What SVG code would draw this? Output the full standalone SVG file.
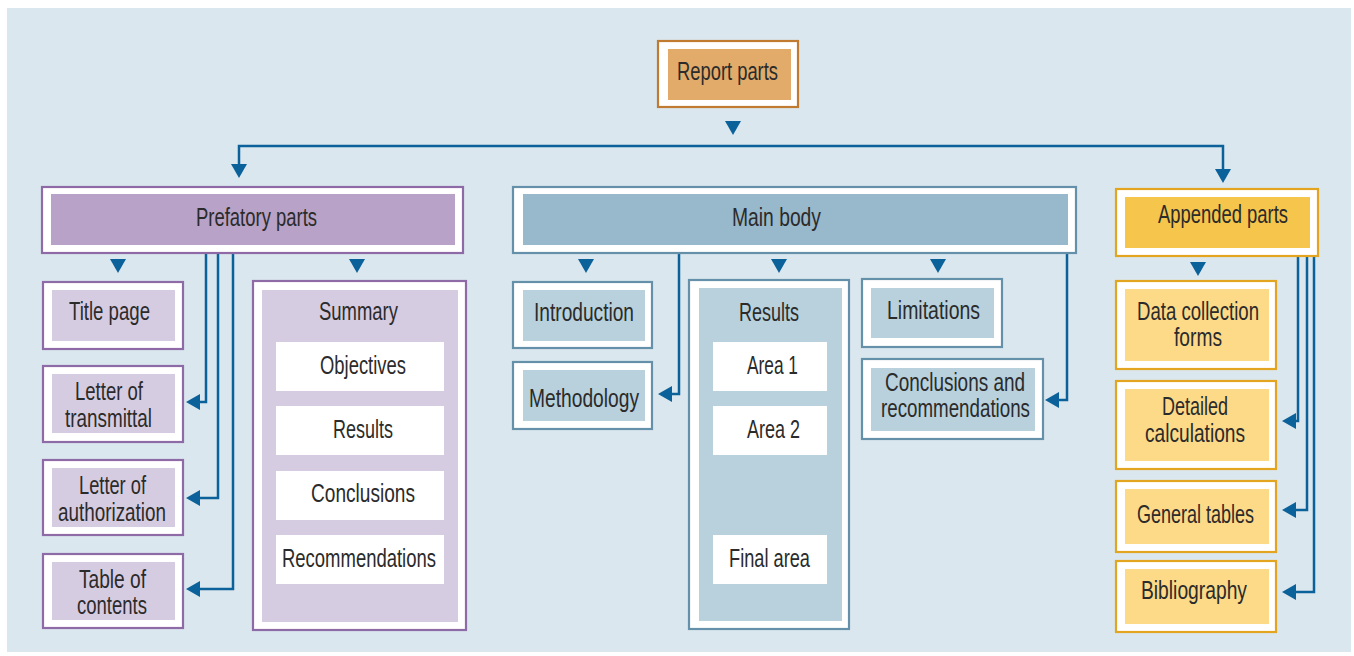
<svg xmlns="http://www.w3.org/2000/svg" width="1354" height="656" viewBox="0 0 1354 656">
<style>
text{font-family:"Liberation Sans",Arial,sans-serif;font-size:25px;fill:#2b2b2b;text-anchor:middle}
.o{fill:#fff;stroke-width:2.2}
.rp{stroke:#c07b30}.rpi{fill:#e2ab6a}
.pp{stroke:#8e6aa6}.ppi{fill:#b8a2c7}.ppl{fill:#d6cce1}
.mb{stroke:#6490aa}.mbi{fill:#98b8cb}.mbl{fill:#b8d1dd}
.ap{stroke:#e3a520}.api{fill:#f5c54c}.apl{fill:#fcda88}
.w{fill:#fff}
.c{fill:none;stroke:#0b6199;stroke-width:2.5}
.h{fill:#0b6199}
</style>
<rect x="7" y="8" width="1344" height="644" fill="#dbe7ef"/>

<g id="connectors">
  <polygon class="h" points="725,121 741,121 733,135"/>
  <polyline class="c" points="239,166 239,146 1223,146 1223,170"/>
  <polygon class="h" points="231,164 247,164 239,178"/>
  <polygon class="h" points="1215,169 1231,169 1223,183"/>
  <polygon class="h" points="110,259 126,259 118,273"/>
  <polygon class="h" points="349,259 365,259 357,273"/>
  <polyline class="c" points="206,253 206,402 198,402"/>
  <polygon class="h" points="186,402 200,394 200,410"/>
  <polyline class="c" points="218,253 218,498 198,498"/>
  <polygon class="h" points="186,498 200,490 200,506"/>
  <polyline class="c" points="233,253 233,589 198,589"/>
  <polygon class="h" points="186,589 200,581 200,597"/>
  <polygon class="h" points="578,259 594,259 586,273"/>
  <polygon class="h" points="771,259 787,259 779,273"/>
  <polygon class="h" points="930,259 946,259 938,273"/>
  <polyline class="c" points="679,253 679,394 670,394"/>
  <polygon class="h" points="658,394 672,386 672,402"/>
  <polyline class="c" points="1067,253 1067,400 1057,400"/>
  <polygon class="h" points="1045,400 1059,392 1059,408"/>
  <polygon class="h" points="1190,262 1206,262 1198,276"/>
  <polyline class="c" points="1298,256 1298,421 1294,421"/>
  <polygon class="h" points="1282,421 1296,413 1296,429"/>
  <polyline class="c" points="1307,256 1307,510 1294,510"/>
  <polygon class="h" points="1282,510 1296,502 1296,518"/>
  <polyline class="c" points="1314,256 1314,592 1294,592"/>
  <polygon class="h" points="1282,592 1296,584 1296,600"/>
</g>

<g id="report-parts">
  <rect class="o rp" x="658" y="41" width="140" height="66"/>
  <rect class="rpi" x="668" y="49" width="123" height="51"/>
  <text x="727.5" y="80" textLength="101" lengthAdjust="spacingAndGlyphs">Report parts</text>
</g>

<g id="prefatory-parts">
  <rect class="o pp" x="42" y="187" width="421" height="66"/>
  <rect class="ppi" x="51" y="194" width="404" height="51"/>
  <text x="256.5" y="226" textLength="121" lengthAdjust="spacingAndGlyphs">Prefatory parts</text>
</g>
<g id="title-page">
  <rect class="o pp" x="43" y="282" width="140" height="67"/>
  <rect class="ppl" x="52" y="290" width="123" height="51"/>
  <text x="109.5" y="320" textLength="81" lengthAdjust="spacingAndGlyphs">Title page</text>
</g>
<g id="letter-of-transmittal">
  <rect class="o pp" x="43" y="366" width="140" height="76"/>
  <rect class="ppl" x="52" y="374" width="123" height="59"/>
  <text x="109" y="400" textLength="68" lengthAdjust="spacingAndGlyphs">Letter of</text>
  <text x="108.5" y="427" textLength="87" lengthAdjust="spacingAndGlyphs">transmittal</text>
</g>
<g id="letter-of-authorization">
  <rect class="o pp" x="43" y="460" width="140" height="75"/>
  <rect class="ppl" x="52" y="468" width="123" height="59"/>
  <text x="112.5" y="494" textLength="67" lengthAdjust="spacingAndGlyphs">Letter of</text>
  <text x="112" y="521" textLength="108" lengthAdjust="spacingAndGlyphs">authorization</text>
</g>
<g id="table-of-contents">
  <rect class="o pp" x="43" y="554" width="140" height="74"/>
  <rect class="ppl" x="52" y="562" width="123" height="58"/>
  <text x="112.5" y="588" textLength="67" lengthAdjust="spacingAndGlyphs">Table of</text>
  <text x="112" y="614" textLength="70" lengthAdjust="spacingAndGlyphs">contents</text>
</g>
<g id="summary">
  <rect class="o pp" x="253" y="281" width="213" height="349"/>
  <rect class="ppl" x="262" y="290" width="196" height="332"/>
  <text x="358.5" y="320" textLength="79" lengthAdjust="spacingAndGlyphs">Summary</text>
  <rect class="w" x="276" y="342" width="168" height="49"/>
  <text x="363" y="374" textLength="86" lengthAdjust="spacingAndGlyphs">Objectives</text>
  <rect class="w" x="276" y="406" width="168" height="49"/>
  <text x="363" y="438" textLength="60" lengthAdjust="spacingAndGlyphs">Results</text>
  <rect class="w" x="276" y="471" width="168" height="49"/>
  <text x="363" y="502" textLength="104" lengthAdjust="spacingAndGlyphs">Conclusions</text>
  <rect class="w" x="276" y="535" width="168" height="49"/>
  <text x="359" y="567" textLength="154" lengthAdjust="spacingAndGlyphs">Recommendations</text>
</g>

<g id="main-body">
  <rect class="o mb" x="513" y="187" width="563" height="66"/>
  <rect class="mbi" x="523" y="194" width="545" height="51"/>
  <text x="776.5" y="226" textLength="89" lengthAdjust="spacingAndGlyphs">Main body</text>
</g>
<g id="introduction">
  <rect class="o mb" x="513" y="282" width="139" height="66"/>
  <rect class="mbl" x="523" y="290" width="122" height="51"/>
  <text x="584" y="321" textLength="100" lengthAdjust="spacingAndGlyphs">Introduction</text>
</g>
<g id="methodology">
  <rect class="o mb" x="513" y="362" width="139" height="67"/>
  <rect class="mbl" x="523" y="370" width="122" height="51"/>
  <text x="584" y="407" textLength="110" lengthAdjust="spacingAndGlyphs">Methodology</text>
</g>
<g id="results">
  <rect class="o mb" x="689" y="280" width="160" height="349"/>
  <rect class="mbl" x="699" y="288" width="143" height="333"/>
  <text x="769" y="321" textLength="60" lengthAdjust="spacingAndGlyphs">Results</text>
  <rect class="w" x="713" y="342" width="114" height="49"/>
  <text x="772.5" y="374" textLength="51" lengthAdjust="spacingAndGlyphs">Area 1</text>
  <rect class="w" x="713" y="406" width="114" height="49"/>
  <text x="773.5" y="438" textLength="53" lengthAdjust="spacingAndGlyphs">Area 2</text>
  <rect class="w" x="713" y="535" width="114" height="49"/>
  <text x="769.5" y="567" textLength="81" lengthAdjust="spacingAndGlyphs">Final area</text>
</g>
<g id="limitations">
  <rect class="o mb" x="862" y="279" width="140" height="68"/>
  <rect class="mbl" x="871" y="288" width="123" height="50"/>
  <text x="933.5" y="319" textLength="93" lengthAdjust="spacingAndGlyphs">Limitations</text>
</g>
<g id="conclusions-and-recommendations">
  <rect class="o mb" x="862" y="359" width="181" height="80"/>
  <rect class="mbl" x="871" y="368" width="164" height="63"/>
  <text x="955" y="391" textLength="140" lengthAdjust="spacingAndGlyphs">Conclusions and</text>
  <text x="955.5" y="417" textLength="149" lengthAdjust="spacingAndGlyphs">recommendations</text>
</g>

<g id="appended-parts">
  <rect class="o ap" x="1116" y="189" width="202" height="67"/>
  <rect class="api" x="1125" y="197" width="185" height="51"/>
  <text x="1223" y="223" textLength="130" lengthAdjust="spacingAndGlyphs">Appended parts</text>
</g>
<g id="data-collection-forms">
  <rect class="o ap" x="1116" y="281" width="160" height="88"/>
  <rect class="apl" x="1125" y="289" width="144" height="72"/>
  <text x="1198" y="320" textLength="122" lengthAdjust="spacingAndGlyphs">Data collection</text>
  <text x="1198" y="346" textLength="48" lengthAdjust="spacingAndGlyphs">forms</text>
</g>
<g id="detailed-calculations">
  <rect class="o ap" x="1116" y="381" width="160" height="88"/>
  <rect class="apl" x="1125" y="389" width="144" height="72"/>
  <text x="1195" y="415" textLength="66" lengthAdjust="spacingAndGlyphs">Detailed</text>
  <text x="1195" y="442" textLength="100" lengthAdjust="spacingAndGlyphs">calculations</text>
</g>
<g id="general-tables">
  <rect class="o ap" x="1116" y="481" width="160" height="71"/>
  <rect class="apl" x="1125" y="489" width="144" height="55"/>
  <text x="1195.5" y="523" textLength="117" lengthAdjust="spacingAndGlyphs">General tables</text>
</g>
<g id="bibliography">
  <rect class="o ap" x="1116" y="561" width="160" height="71"/>
  <rect class="apl" x="1125" y="569" width="144" height="55"/>
  <text x="1194" y="599" textLength="106" lengthAdjust="spacingAndGlyphs">Bibliography</text>
</g>
</svg>
